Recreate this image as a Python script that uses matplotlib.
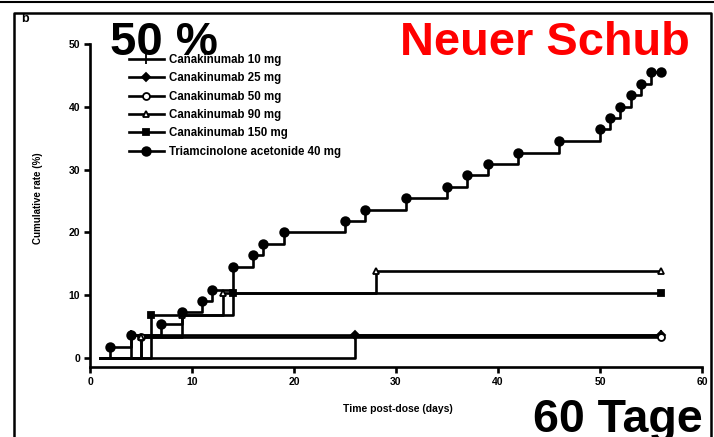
import matplotlib
matplotlib.use("Agg")
import matplotlib.pyplot as plt
from matplotlib.lines import Line2D
import numpy as np

plt.rcParams['font.family'] = ['Liberation Sans', 'DejaVu Sans']

# event days and cumulative rate (%) per group
end_day = 56
start_day = 1

tri_days = [2, 4, 7, 9, 11, 12, 14, 16, 17, 19, 25, 27, 31, 35, 37, 39, 42, 46, 50, 51, 52, 53, 54, 55]
tri_rate = [1.8, 3.6, 5.4, 7.3, 9.1, 10.9, 14.5, 16.4, 18.2, 20.0, 21.8, 23.6, 25.5, 27.3, 29.1,
            30.9, 32.7, 34.5, 36.4, 38.2, 40.0, 41.8, 43.6, 45.5]

c10_days = [4]
c10_rate = [3.6]
c25_days = [26]
c25_rate = [3.7]
c50_days = [5]
c50_rate = [3.4]
c90_days = [5, 9, 13, 28]
c90_rate = [3.4, 6.9, 10.3, 13.8]
c150_days = [6, 14]
c150_rate = [6.9, 10.3]

labels = ['Canakinumab 10 mg', 'Canakinumab 25 mg', 'Canakinumab 50 mg',
          'Canakinumab 90 mg', 'Canakinumab 150 mg', 'Triamcinolone acetonide 40 mg']
xticks = [0, 10, 20, 30, 40, 50, 60]
yticks = [0, 10, 20, 30, 40, 50]

W, H = 714, 437
fig = plt.figure(figsize=(W / 100, H / 100), dpi=100)
ax = fig.add_axes([90 / W, 1 - 367 / H, (702 - 90) / W, (367 - 44) / H])


def km(days, rate, marker, face, ms, label):
    t = [start_day] + days + [end_day]
    v = [0] + rate + [rate[-1]]
    ax.step(t, v, where='post', color='black', lw=1.9, zorder=3)
    ax.plot(days + [end_day], rate + [rate[-1]], ls='none', marker=marker, ms=ms,
            mfc=face, mec='black', mew=1.3, zorder=4)
    return Line2D([], [], color='black', lw=1.9, marker=marker, ms=ms, mfc=face,
                  mec='black', mew=1.3, label=label)


handles = [
    km(c10_days, c10_rate, '|', 'black', 7, labels[0]),
    km(c25_days, c25_rate, 'D', 'black', 4, labels[1]),
    km(c50_days, c50_rate, 'o', 'white', 5, labels[2]),
    km(c90_days, c90_rate, '^', 'white', 5, labels[3]),
    km(c150_days, c150_rate, 's', 'black', 5, labels[4]),
    km(tri_days, tri_rate, 'o', 'black', 6.2, labels[5]),
]

ax.set_xlim(0, 60)
ax.set_ylim(-1.43, 50)
ax.set_xticks(xticks)
ax.set_yticks(yticks)
for s in ['top', 'right']:
    ax.spines[s].set_visible(False)
for s in ['left', 'bottom']:
    ax.spines[s].set_linewidth(1.9)
ax.tick_params(direction='out', length=4.5, width=1.9, labelsize=7.5, pad=2.5)
for lab in ax.get_xticklabels() + ax.get_yticklabels():
    lab.set_fontweight('bold')

leg = fig.legend(handles=handles, loc='upper left', bbox_to_anchor=(129 / W, 1 - 54 / H),
                 frameon=False, fontsize=8.3, handlelength=3.0, handletextpad=0.5,
                 labelspacing=0.55, borderpad=0, borderaxespad=0)
for t in leg.get_texts():
    t.set_fontweight('bold')

fig.text(38 / W, 1 - 198 / H, 'Cumulative rate (%)', rotation=90, ha='center', va='center',
         fontsize=7, fontweight='bold')
fig.text(398 / W, 1 - 409 / H, 'Time post-dose (days)', ha='center', va='center',
         fontsize=7.5, fontweight='bold')

# slide overlay text
fig.text(110 / W, 1 - 55 / H, '50 %', fontsize=34, fontweight='bold', va='baseline')
fig.text(400 / W, 1 - 55 / H, 'Neuer Schub', fontsize=33.8, fontweight='bold', color='#ff0000',
         va='baseline')
fig.text(533 / W, 1 - 432 / H, '60 Tage', fontsize=33.5, fontweight='bold', va='baseline')
fig.text(21 / W, 1 - 22 / H, 'b', fontsize=9, fontweight='bold', va='baseline')

# frame lines of the slide
fig.add_artist(Line2D([0, 1], [1 - 2 / H, 1 - 2 / H], color='black', lw=1.5, transform=fig.transFigure))
fig.add_artist(Line2D([14 / W, 14 / W, 711 / W, 711 / W], [0, 1 - 13 / H, 1 - 13 / H, 0],
                      color='black', lw=1.8, transform=fig.transFigure))

fig.savefig('out.png', dpi=100)
